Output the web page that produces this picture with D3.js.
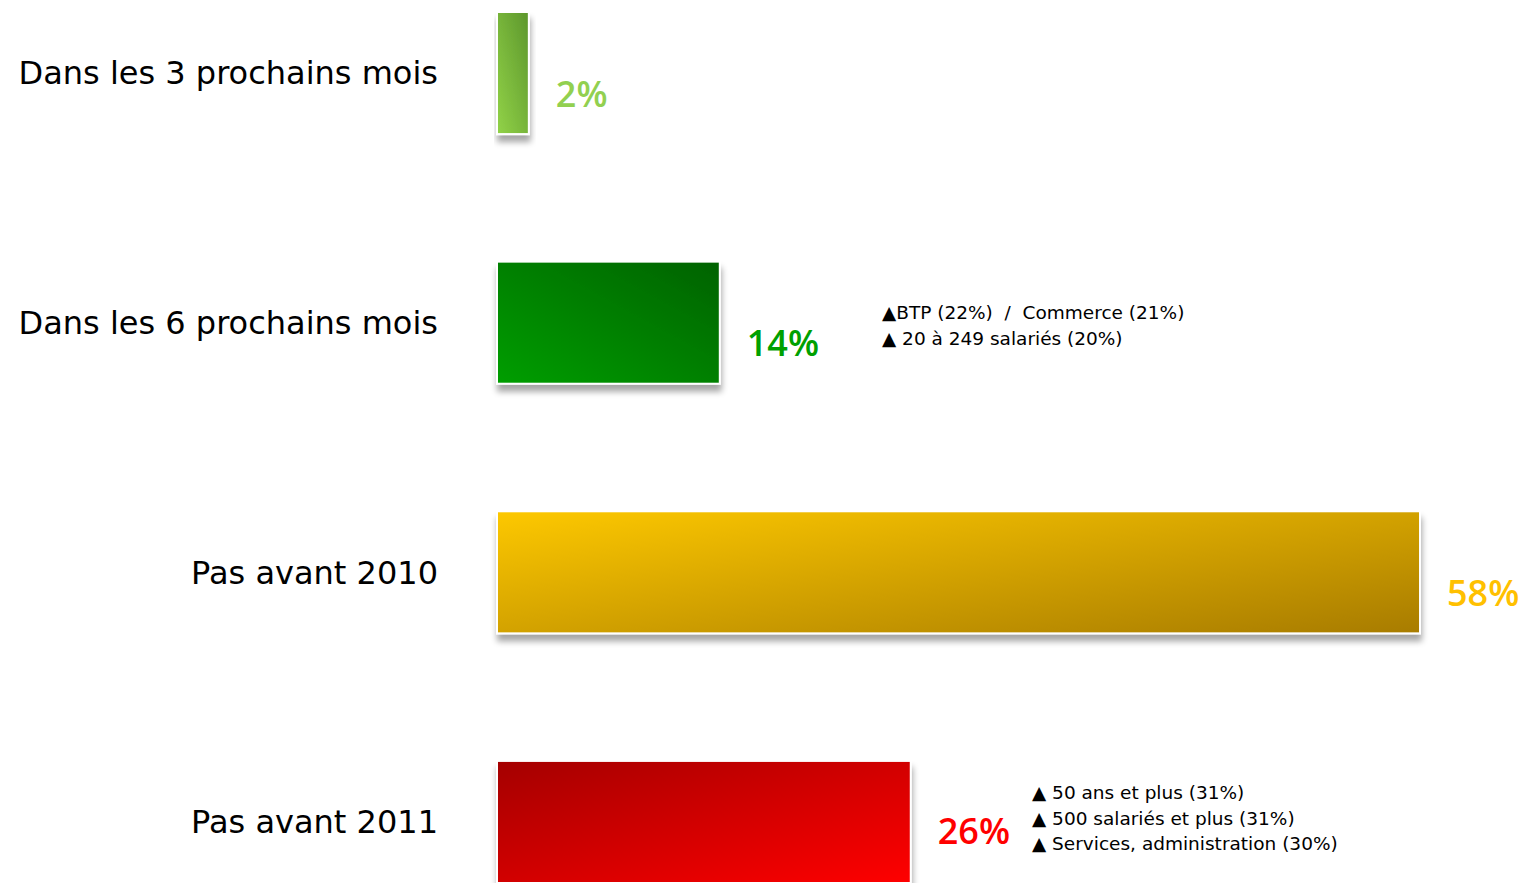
<!DOCTYPE html>
<html>
<head>
<meta charset="utf-8">
<script src="https://cdn.jsdelivr.net/npm/d3@7"></script>
<style>
  body { margin: 0; background: #fff; }
  svg { display: block; }
</style>
</head>
<body>
<svg id="chart" width="1526" height="883"></svg>
<script>
// data
var categories = ["Dans les 3 prochains mois", "Dans les 6 prochains mois", "Pas avant 2010", "Pas avant 2011"];
var values = [2, 14, 58, 26];
var labelColors = ["#92d050", "#00a000", "#ffc000", "#ff0000"];
var notes = [
  [],
  ["\u25B2BTP (22%)  /  Commerce (21%)", "\u25B2 20 \u00e0 249 salari\u00e9s (20%)"],
  [],
  ["\u25B2 50 ans et plus (31%)", "\u25B2 500 salari\u00e9s et plus (31%)", "\u25B2 Services, administration (30%)"]
];

// gradient per bar
var grads = [
  {from: "#92d348", to: "#5c962c", x1: 0, y1: 1, x2: 1, y2: 0},
  {from: "#009e00", to: "#006200", x1: 0, y1: 1, x2: 1, y2: 0},
  {from: "#fdc800", to: "#a87c00", x1: 0, y1: 0, x2: 1, y2: 1},
  {from: "#a40000", to: "#ff0000", x1: 0, y1: 0, x2: 1, y2: 1}
];

var svg = d3.select("#chart");
var defs = svg.append("defs");

var x = d3.scaleLinear().domain([0, 58]).range([497, 1420]);
var y = d3.scaleBand().domain(categories).range([12, 883]).paddingInner(0.511).paddingOuter(0);

grads.forEach(function(g, i) {
  var lg = defs.append("linearGradient")
    .attr("id", "g" + i)
    .attr("x1", g.x1).attr("y1", g.y1).attr("x2", g.x2).attr("y2", g.y2);
  lg.append("stop").attr("offset", "0%").attr("stop-color", g.from);
  lg.append("stop").attr("offset", "100%").attr("stop-color", g.to);
});

// soft shadow under bars
var f = defs.append("filter").attr("id", "shadow")
  .attr("x", "-10%").attr("y", "-10%").attr("width", "130%").attr("height", "140%");
f.append("feGaussianBlur").attr("in", "SourceAlpha").attr("stdDeviation", 3);
f.append("feOffset").attr("dx", 1).attr("dy", 7).attr("result", "off");
f.append("feComponentTransfer").append("feFuncA").attr("type", "linear").attr("slope", 0.35);
var m = f.append("feMerge");
m.append("feMergeNode");
m.append("feMergeNode").attr("in", "SourceGraphic");

var band = y.bandwidth();

var row = svg.selectAll("g.row").data(categories).enter()
  .append("g").attr("class", "row");

row.append("rect")
  .attr("x", x(0))
  .attr("y", function(d) { return y(d); })
  .attr("width", function(d, i) { return x(values[i]) - x(0); })
  .attr("height", band)
  .attr("fill", function(d, i) { return "url(#g" + i + ")"; })
  .attr("stroke", "#fff")
  .attr("stroke-width", 2)
  .attr("filter", "url(#shadow)");

// category labels
row.append("text")
  .attr("x", 438)
  .attr("y", function(d) { return y(d) + band / 2; })
  .attr("dy", "0.35em")
  .attr("text-anchor", "end")
  .style("font-family", "'DejaVu Sans'")
  .style("font-size", "32px")
  .attr("fill", "#000")
  .text(function(d) { return d; });

// value labels
row.append("text")
  .attr("x", function(d, i) { return x(values[i]) + 27; })
  .attr("y", function(d, i) { return y(d) + band / 2 + (i === 3 ? 9 : 21); })
  .attr("dy", "0.35em")
  .style("font-family", "'Open Sans'")
  .style("font-size", "36px")
  .style("font-weight", "600")
  .attr("fill", function(d, i) { return labelColors[i]; })
  .text(function(d, i) { return values[i] + "%"; });

// notes
row.each(function(d, i) {
  var lines = notes[i];
  if (!lines.length) return;
  var nx = i === 1 ? 882 : 1032;
  var top = i === 1 ? y(d) + 51 : y(d) + 32;
  d3.select(this).selectAll("text.note").data(lines).enter()
    .append("text").attr("class", "note")
    .attr("x", nx)
    .attr("y", function(t, j) { return top + j * 25.5; })
    .attr("dy", "0.35em")
    .style("font-family", "'DejaVu Sans'")
    .style("font-size", "18.5px")
    .style("white-space", "pre")
    .attr("fill", "#000")
    .text(function(t) { return t; });
});
</script>
</body>
</html>
